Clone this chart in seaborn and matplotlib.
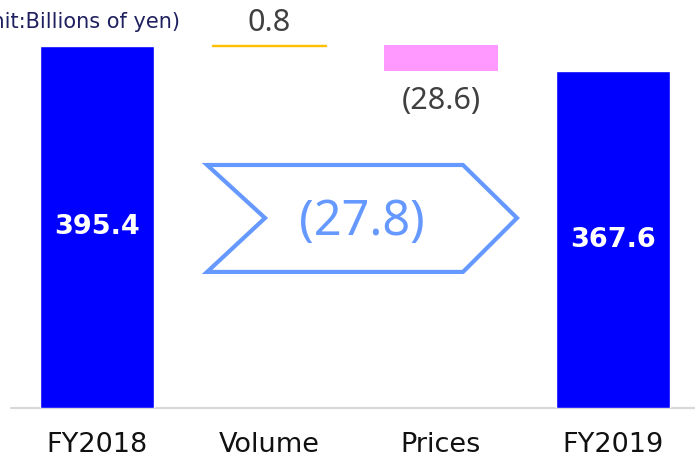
import pandas as pd
import matplotlib.pyplot as plt
from matplotlib.patches import Polygon
import seaborn as sns

# ----------------------------
# Data (billions of yen)
# ----------------------------
categories = ["FY2018", "Volume", "Prices", "FY2019"]
start_value = 395.4
volume_change = 0.8
price_change = -28.6
end_value = 367.6

delta_labels = ["0.8", "(28.6)"]
total_change_label = "(27.8)"

# ----------------------------
# Style
# ----------------------------
sns.set_theme(style="white")
plt.rcParams["font.family"] = ["DejaVu Sans"]

BLUE = "#0000FF"
PINK = "#FF99FF"
GOLD = "#FFC000"
ARROW = "#6699FF"
GREY_TXT = "#404040"

fig = plt.figure(figsize=(6.95, 4.59), dpi=100)
ax = fig.add_axes([0, 51 / 459, 1, 408 / 459])

# totals drawn by seaborn
totals = pd.DataFrame({"item": ["FY2018", "FY2019"], "value": [start_value, end_value]})
sns.barplot(data=totals, x="item", y="value", order=categories,
            color=BLUE, saturation=1, width=0.66, ax=ax, zorder=2)

# floating bars for the changes
vol_bottom = start_value
price_bottom = start_value + volume_change
ax.bar(1, volume_change, bottom=vol_bottom, width=0.66, color=GOLD,
       edgecolor=GOLD, linewidth=1, zorder=2)
ax.bar(2, price_change, bottom=price_bottom, width=0.66, color=PINK,
       linewidth=0, zorder=2)

# labels
ax.annotate(delta_labels[0], (1, vol_bottom + volume_change), xytext=(0, 16),
            textcoords="offset points", ha="center", va="center",
            fontsize=22, color=GREY_TXT, family="Noto Sans")
ax.annotate(delta_labels[1], (2, price_bottom + price_change), xytext=(0, -21),
            textcoords="offset points", ha="center", va="center",
            fontsize=22, color=GREY_TXT, family="Noto Sans")
for i, v in [(0, start_value), (3, end_value)]:
    ax.text(i, v / 2, f"{v:.1f}", ha="center", va="center", color="white",
            fontsize=19.5, fontweight="bold", zorder=3)

# chevron showing the total change
x_l, x_n, x_s, x_t = 0.64, 0.977, 2.128, 2.442
y_t, y_m, y_b = 265.4, 207.5, 148.6
chev = Polygon([(x_l, y_t), (x_s, y_t), (x_t, y_m), (x_s, y_b), (x_l, y_b), (x_n, y_m)],
               closed=True, fill=False, edgecolor=ARROW, linewidth=3,
               joinstyle="miter", zorder=3)
ax.add_patch(chev)
ax.text(1.54, 203, total_change_label, ha="center", va="center",
        fontsize=35, color=ARROW, family="Noto Sans")

# axes cosmetics
ax.set_xlim(-0.564, 3.477)
ax.set_ylim(0, 445.6)
ax.axhline(0, xmin=11 / 695, color="#D9D9D9", linewidth=1.6, zorder=1, clip_on=False)
sns.despine(ax=ax, left=True, bottom=True)
ax.set_yticks([])
ax.set_xlabel("")
ax.set_ylabel("")
ax.tick_params(axis="x", length=0, pad=17, labelsize=19.5, labelcolor="#111111")
ax.patch.set_alpha(0)

fig.text(180 / 695, 1 - 22 / 459, "(Unit:Billions of yen)", ha="right", va="center",
         fontsize=15, color="#1F2060")

fig.savefig("out.png", dpi=100)
